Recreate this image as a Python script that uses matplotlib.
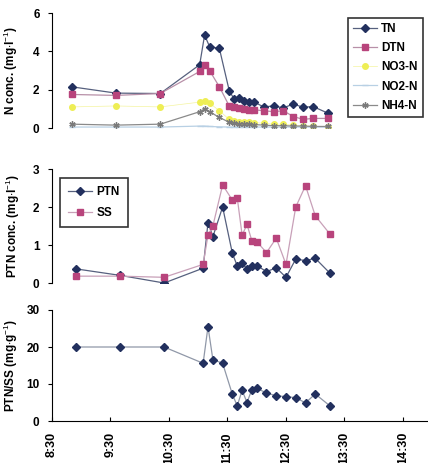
import numpy as np
import matplotlib.pyplot as plt

plt.rcParams['font.family'] = ['Liberation Sans', 'DejaVu Sans']
plt.rcParams['mathtext.fontset'] = 'custom'
plt.rcParams['mathtext.rm'] = 'Liberation Sans'

# sampling times
times = ["8:55", "9:40", "10:25", "11:05", "11:10", "11:15", "11:25", "11:35", "11:40", "11:45",
         "11:50", "11:55", "12:00", "12:10", "12:20", "12:30", "12:40", "12:50", "13:00", "13:15"]
x = np.array([int(t.split(":")[0]) + int(t.split(":")[1]) / 60 for t in times])

# nitrogen (mg/l)
tn = [2.15, 1.82, 1.8, 3.3, 4.85, 4.25, 4.15, 1.95, 1.5, 1.55, 1.4, 1.38, 1.36, 1.1, 1.15, 1.05, 1.25, 1.08, 1.12, 0.78]
dtn = [1.75, 1.7, 1.8, 2.95, 3.3, 3.0, 2.15, 1.15, 1.1, 1.05, 1.0, 0.95, 0.95, 0.9, 0.85, 0.9, 0.6, 0.45, 0.5, 0.5]
no3 = [1.1, 1.15, 1.1, 1.35, 1.4, 1.3, 0.9, 0.45, 0.35, 0.3, 0.3, 0.3, 0.28, 0.25, 0.2, 0.2, 0.15, 0.12, 0.1, 0.05]
no2 = [0.05, 0.05, 0.05, 0.1, 0.1, 0.08, 0.06, 0.05, 0.05, 0.05, 0.05, 0.05, 0.05, 0.05, 0.05, 0.05, 0.05, 0.05, 0.05, 0.05]
nh4 = [0.2, 0.15, 0.2, 0.85, 1.0, 0.85, 0.55, 0.3, 0.25, 0.22, 0.2, 0.2, 0.18, 0.15, 0.12, 0.12, 0.1, 0.1, 0.08, 0.08]

# particulate N and suspended solids
ptn = [0.37, 0.2, 0.0, 0.39, 1.59, 1.22, 2.0, 0.78, 0.45, 0.52, 0.37, 0.46, 0.46, 0.3, 0.4, 0.15, 0.63, 0.59, 0.65, 0.26]
ss = [0.18, 0.18, 0.15, 0.49, 1.26, 1.5, 2.58, 2.18, 2.24, 1.26, 1.54, 1.11, 1.09, 0.8, 1.18, 0.49, 2.0, 2.56, 1.77, 1.29]

# PTN/SS (mg/g)
ratio = [20, 20, 20, 15.6, 25.5, 16.6, 15.6, 7.2, 4.1, 8.3, 5.0, 8.5, 8.8, 7.6, 6.8, 6.6, 6.3, 4.9, 7.3, 4.1]

xtick_labels = ["8:30", "9:30", "10:30", "11:30", "12:30", "13:30", "14:30"]

navy = '#22305e'
pink = '#b8447c'

W, H = 428, 463
fig = plt.figure(figsize=(W / 100, H / 100), dpi=100)

def add_axes(top_px, bottom_px):
    return fig.add_axes([52 / W, 1 - bottom_px / H, 376 / W, (bottom_px - top_px) / H])

ax1 = add_axes(13, 128)
ax2 = add_axes(169, 283)
ax3 = add_axes(310, 421)

leg_style = dict(frameon=True, fancybox=False, edgecolor='black', handlelength=2.0,
                 handletextpad=0.4, borderaxespad=0,
                 prop={'weight': 'bold', 'size': 8.5})

# top panel
ax1.plot(x, tn, color='#56607e', lw=0.9, marker='D', ms=4, mfc=navy, mec=navy, label='TN')
ax1.plot(x, dtn, color='#b890a8', lw=0.9, marker='s', ms=4.5, mfc=pink, mec=pink, label='DTN')
ax1.plot(x, no3, color='#f4f4a0', lw=0.5, marker='o', ms=4, mfc='#eeee55', mec='#eeee55', label='NO3-N')
ax1.plot(x, no2, color='#b8d0e4', lw=0.9, marker='_', ms=4, mec='#b8d0e4', label='NO2-N')
ax1.plot(x, nh4, color='#8a8a8a', lw=0.9, marker=(6, 2, 0), ms=4.5, mec='#7a7a7a', label='NH4-N')
ax1.set_xlim(8.5 + 5 / 59.1, 8.5 + 381 / 59.1)
ax1.set_ylim(0, 6)
ax1.set_yticks([0, 2, 4, 6])
ax1.spines['bottom'].set_visible(False)
ax1.set_xticks([])
ax1.set_ylabel(r"N conc. (mg$\cdot$l$^{-1}$)", fontsize=8.5, fontweight='bold')
ax1.yaxis.set_label_coords(-0.085, 0.5)
leg1 = ax1.legend(loc='upper right', bbox_to_anchor=(423 / W, 1 - 18 / H), bbox_transform=fig.transFigure,
                  labelspacing=0.6, borderpad=0.45, **leg_style)
leg1.get_frame().set_linewidth(1.2)

# middle panel
ax2.plot(x, ptn, color='#56607e', lw=0.9, marker='D', ms=4, mfc=navy, mec=navy, label='PTN')
ax2.plot(x, ss, color='#c8a0b8', lw=0.9, marker='s', ms=4.5, mfc=pink, mec=pink, label='SS')
ax2.set_xlim(8.5, 8.5 + 376 / 58.5)
ax2.set_ylim(0, 3)
ax2.set_yticks([0, 1, 2, 3])
ax2.spines['bottom'].set_visible(False)
ax2.set_xticks([])
ax2.tick_params(axis='y', right=True)
ax2.set_ylabel(r"PTN conc. (mg$\cdot$l$^{-1}$)", fontsize=8.5, fontweight='bold')
ax2.yaxis.set_label_coords(-0.08, 0.5)
leg2 = ax2.legend(loc='upper left', bbox_to_anchor=(60 / W, 1 - 178 / H), bbox_transform=fig.transFigure,
                  labelspacing=0.75, borderpad=0.7, **leg_style)
leg2.get_frame().set_linewidth(1.2)

# bottom panel
ax3.plot(x, ratio, color='#9098a8', lw=0.9, marker='D', ms=4, mfc=navy, mec=navy)
ax3.set_xlim(8.5, 8.5 + 376 / 58.5)
ax3.set_ylim(0, 30)
ax3.set_yticks([0, 10, 20, 30])
ax3.set_xticks(np.arange(8.5, 15, 1.0))
ax3.set_xticklabels(xtick_labels, rotation=90, va='top', ha='center', fontsize=9, fontweight='bold')
ax3.tick_params(axis='x', direction='in', length=3, pad=8)
ax3.set_ylabel(r"PTN/SS (mg$\cdot$g$^{-1}$)", fontsize=8.5, fontweight='bold')
ax3.yaxis.set_label_coords(-0.085, 0.5)

for ax in (ax1, ax2, ax3):
    ax.spines['top'].set_visible(False)
    ax.spines['right'].set_visible(False)
    ax.tick_params(axis='y', labelsize=8.5, length=3, width=0.8, direction='out', pad=6)
    for lab in ax.get_yticklabels():
        lab.set_fontweight('bold')

fig.savefig('out.png', dpi=100)
